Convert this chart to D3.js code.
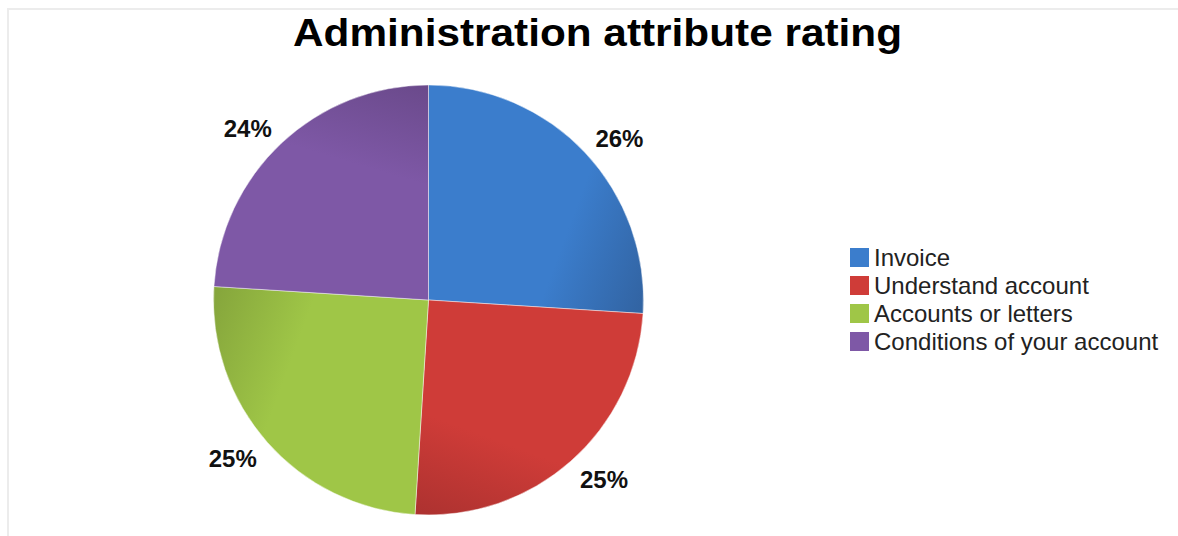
<!DOCTYPE html>
<html>
<head>
<meta charset="utf-8">
<script src="https://cdn.jsdelivr.net/npm/d3@7"></script>
<style>
  html, body { margin: 0; padding: 0; background: #fff; }
  svg { display: block; }
</style>
</head>
<body>
<svg id="chart" width="1178" height="536"></svg>
<script>
// Administration attribute rating — share of responses per attribute
const categories = ["Invoice", "Understand account", "Accounts or letters", "Conditions of your account"];
const shares = [26, 25, 25, 24];
const baseColors = ["#3b7dcc", "#cf3c38", "#9fc647", "#7e58a6"];
const shadeColors = ["#3264a3", "#ae3230", "#86a63c", "#6b4a8c"];
const title = "Administration attribute rating";

const W = 1178, H = 536;
const cx = 428.5, cy = 300, R = 215, labelGap = 14;

const svg = d3.select("#chart");
const defs = svg.append("defs");

// faint frame lines on the top and left edges
svg.append("line").attr("x1", 7).attr("x2", W).attr("y1", 9).attr("y2", 9)
  .attr("stroke", "#ececec").attr("stroke-width", 2);
svg.append("line").attr("x1", 8).attr("x2", 8).attr("y1", 8).attr("y2", H)
  .attr("stroke", "#ececec").attr("stroke-width", 2);

svg.append("text")
  .attr("x", 293).attr("y", 46)
  .attr("textLength", 609).attr("lengthAdjust", "spacingAndGlyphs")
  .attr("font-family", "'Liberation Sans', Arial, sans-serif")
  .attr("font-weight", "bold").attr("font-size", 38)
  .attr("fill", "#000")
  .text(title);

const pie = d3.pie().sort(null).value(d => d)
  .startAngle(0).endAngle(2 * Math.PI);
const arcs = pie(shares);
const arc = d3.arc().innerRadius(0).outerRadius(R);

// polar point relative to the pie centre (angle clockwise from 12 o'clock)
const polar = (r, a) => [r * Math.sin(a), -r * Math.cos(a)];

// each slice darkens toward its clockwise outer corner
arcs.forEach((a, i) => {
  const p0 = polar(R * 0.35, a.startAngle + (a.endAngle - a.startAngle) * 0.3);
  const p1 = polar(R, a.endAngle - 0.06);
  const g = defs.append("linearGradient")
    .attr("id", "shade" + i)
    .attr("gradientUnits", "userSpaceOnUse")
    .attr("x1", p0[0]).attr("y1", p0[1])
    .attr("x2", p1[0]).attr("y2", p1[1]);
  g.append("stop").attr("offset", "0%").attr("stop-color", baseColors[i]);
  g.append("stop").attr("offset", "50%").attr("stop-color", baseColors[i]);
  g.append("stop").attr("offset", "100%").attr("stop-color", shadeColors[i]);
});

const gPie = svg.append("g").attr("transform", `translate(${cx},${cy})`);
gPie.selectAll("path.slice")
  .data(arcs)
  .join("path")
  .attr("class", "slice")
  .attr("d", arc)
  .attr("fill", (d, i) => `url(#shade${i})`)
  .attr("stroke", "rgba(255,255,255,0.45)")
  .attr("stroke-width", 1);

// percentage labels: the text box corner nearest the pie sits just outside the rim
const capH = 16;
gPie.selectAll("text.pct")
  .data(arcs)
  .join("text")
  .attr("class", "pct")
  .each(function(d) {
    const mid = (d.startAngle + d.endAngle) / 2;
    const [x, y] = polar(R + labelGap, mid);
    const right = Math.sin(mid) >= 0;
    const top = Math.cos(mid) >= 0;
    d3.select(this)
      .attr("x", x)
      .attr("y", top ? y + 4 : y + capH)
      .attr("text-anchor", right ? "start" : "end");
  })
  .attr("font-family", "'Liberation Sans', Arial, sans-serif")
  .attr("font-weight", "bold").attr("font-size", 24)
  .attr("fill", "#111")
  .text(d => d.data + "%");

// legend
const legend = svg.append("g").attr("transform", "translate(850,248)");
const rows = legend.selectAll("g")
  .data(categories)
  .join("g")
  .attr("transform", (d, i) => `translate(0,${i * 28})`);
rows.append("rect")
  .attr("width", 19).attr("height", 19)
  .attr("fill", (d, i) => baseColors[i]);
rows.append("text")
  .attr("x", 24).attr("y", 18)
  .attr("font-family", "'Liberation Sans', Arial, sans-serif")
  .attr("font-size", 24).attr("fill", "#222")
  .text(d => d);
</script>
</body>
</html>
